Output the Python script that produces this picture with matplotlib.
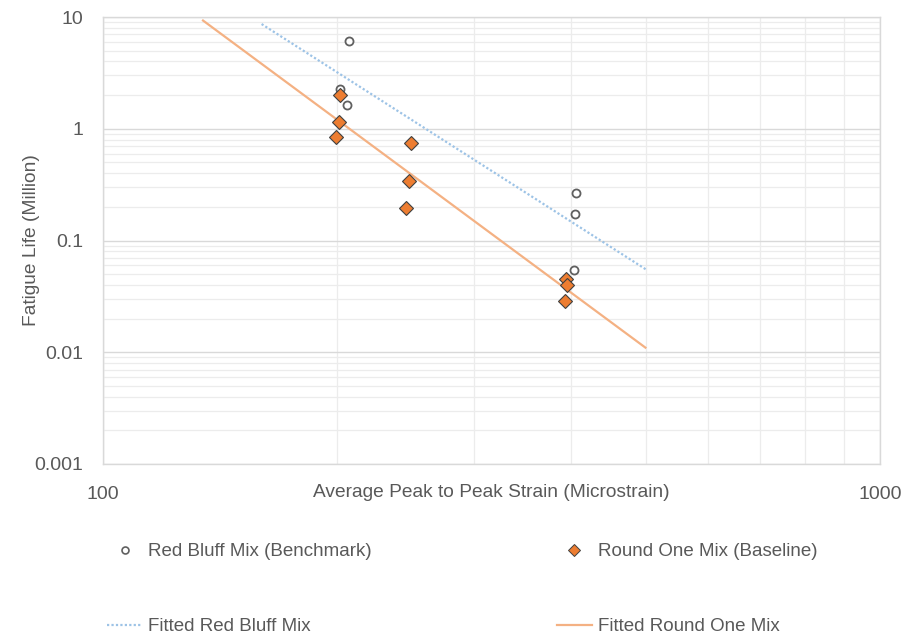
import matplotlib
matplotlib.use("Agg")
import matplotlib.pyplot as plt
from matplotlib.lines import Line2D
from matplotlib.ticker import LogLocator, FuncFormatter, NullFormatter

plt.rcParams['font.family'] = ['Liberation Sans', 'DejaVu Sans']

# values
rb_strain = [207, 202, 206, 406, 405, 404]
rb_life = [6.1, 2.25, 1.64, 0.267, 0.173, 0.054]
ro_strain = [202, 201, 199.5, 249, 247.5, 245.5, 394, 395, 393.5]
ro_life = [2.0, 1.15, 0.84, 0.75, 0.34, 0.195, 0.045, 0.040, 0.029]

# fitted power-law lines (end points)
rb_fit_strain = [160, 500]
rb_fit_life = [8.65, 0.055]
ro_fit_strain = [134.5, 499]
ro_fit_life = [9.3, 0.011]

x_ticks = [100, 1000]
y_ticks = [0.001, 0.01, 0.1, 1, 10]

txt = '#595959'
grid_major = '#d9d9d9'
grid_minor = '#ececec'
orange = '#ED7D31'
fit_orange = '#F4B183'
fit_blue = '#9DC3E6'

fig = plt.figure(figsize=(9.06, 6.36), dpi=100)
ax = fig.add_axes([103 / 906, 1 - 464 / 636, 777 / 906, 447 / 636])

ax.set_xscale('log')
ax.set_yscale('log')
ax.set_xlim(100, 1000)
ax.set_ylim(0.001, 10)

ax.plot(rb_fit_strain, rb_fit_life, color=fit_blue, lw=1.6, ls=(0, (1, 1)), zorder=2,
        label='Fitted Red Bluff Mix')
ax.plot(ro_fit_strain, ro_fit_life, color=fit_orange, lw=1.6, ls='-', zorder=2,
        label='Fitted Round One Mix')

ax.plot(rb_strain, rb_life, ls='none', marker='o', ms=5.8, mfc='white', mec='#606060',
        mew=1.3, zorder=3)
ax.plot(ro_strain, ro_life, ls='none', marker='D', ms=7, mfc=orange, mec='#404040',
        mew=0.8, zorder=4)

ax.set_xticks(x_ticks)
ax.xaxis.set_minor_locator(LogLocator(base=10, subs=range(2, 10)))
ax.xaxis.set_minor_formatter(NullFormatter())
ax.xaxis.set_major_formatter(FuncFormatter(lambda v, p: '%g' % v))
ax.set_yticks(y_ticks)
ax.yaxis.set_minor_locator(LogLocator(base=10, subs=range(2, 10)))
ax.yaxis.set_minor_formatter(NullFormatter())
ax.yaxis.set_major_formatter(FuncFormatter(lambda v, p: '%g' % v))

ax.tick_params(which='both', length=0, colors=txt, labelsize=14)
ax.tick_params(axis='x', pad=15.5)
ax.tick_params(axis='y', pad=14)

ax.grid(which='major', color=grid_major, lw=1.0, zorder=0)
ax.grid(which='minor', color=grid_minor, lw=0.9, zorder=0)
ax.set_axisbelow(True)
for s in ax.spines.values():
    s.set_color(grid_major)
    s.set_linewidth(1.0)

ax.set_xlabel('Average Peak to Peak Strain (Microstrain)', fontsize=13.8, color=txt)
ax.xaxis.set_label_coords(0.5, -0.063)
ax.xaxis.label.set_va('center')
ax.set_ylabel('Fatigue Life (Million)', fontsize=13.8, color=txt)
ax.yaxis.set_label_coords(-0.092, 0.5)
ax.yaxis.label.set_va('center')

handles = [
    Line2D([], [], ls='none', marker='o', ms=5, mfc='white', mec='#606060', mew=1.2),
    Line2D([], [], color=fit_blue, lw=1.6, ls=(0, (1, 1))),
    Line2D([], [], ls='none', marker='D', ms=6, mfc=orange, mec='#404040', mew=0.7),
    Line2D([], [], color=fit_orange, lw=1.6),
]
labels = ['Red Bluff Mix (Benchmark)', 'Fitted Red Bluff Mix',
          'Round One Mix (Baseline)', 'Fitted Round One Mix']
leg = fig.legend(handles, labels, ncol=2, loc='upper left',
                 bbox_to_anchor=(107 / 906, 1 - 543 / 636), frameon=False,
                 fontsize=13.5, handlelength=1.87, handletextpad=0.3,
                 columnspacing=9.9, labelspacing=3.1, borderpad=0, borderaxespad=0)
for t in leg.get_texts():
    t.set_color(txt)

fig.savefig('out.png', dpi=100, facecolor='white')
